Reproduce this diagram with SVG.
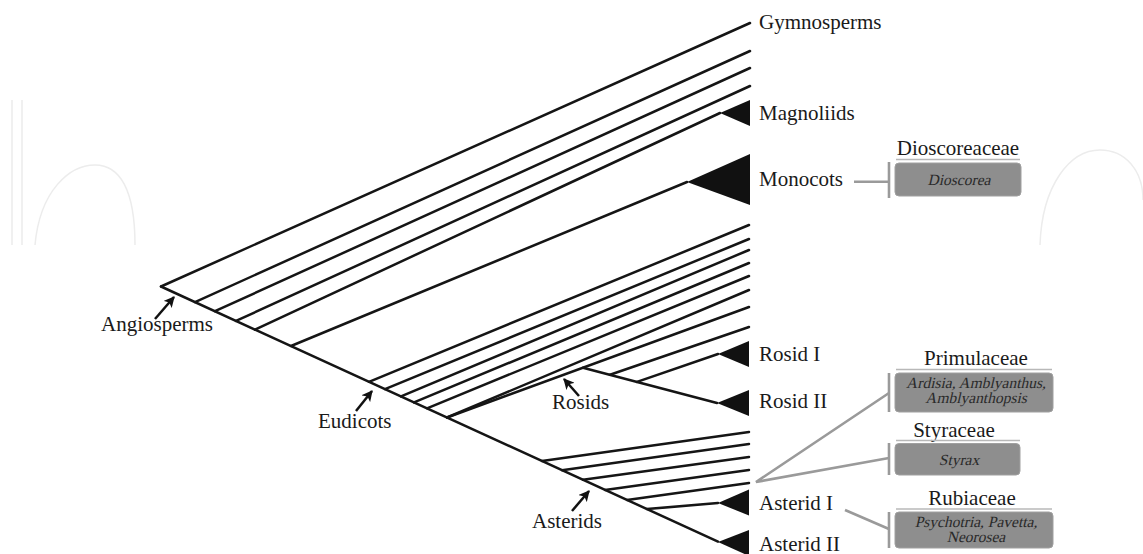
<svg xmlns="http://www.w3.org/2000/svg" width="1143" height="554" viewBox="0 0 1143 554">
<defs>
<marker id="ah" viewBox="0 0 10 10" refX="9" refY="5" markerWidth="11" markerHeight="11" markerUnits="userSpaceOnUse" orient="auto">
<path d="M0,0 L10,5 L0,10 L2.5,5 Z" fill="#111"/>
</marker>
<style>
.br{stroke:#151515;stroke-width:2.5;fill:none;stroke-linecap:round}
.tri{fill:#111}
.lbl{font-family:"Liberation Serif","Times New Roman",serif;font-size:21px;fill:#1a1a1a}
.hdr{font-family:"Liberation Serif","Times New Roman",serif;font-size:21px;fill:#1a1a1a;text-anchor:middle}
.it{font-family:"Liberation Serif","Times New Roman",serif;font-size:15.5px;fill:#2a2a2a;text-anchor:middle}
.box{fill:#8e8e8e;stroke:#a0a0a0;stroke-width:1}
.ul{stroke:#b8b8b8;stroke-width:1.5}
.gl{stroke:#9a9a9a;stroke-width:2.6;fill:none}
.arr{stroke:#111;stroke-width:2.5;marker-end:url(#ah)}
.wm{stroke:#ececec;stroke-width:1.5;fill:none}
</style>
</defs>
<rect width="1143" height="554" fill="#fff"/>

<g id="watermark">
<path class="wm" d="M12,100 L12,245 M22,100 L22,245"/>
<path class="wm" d="M35,245 C40,190 70,165 95,165 C120,165 135,190 135,245"/>
<path class="wm" d="M1040,245 C1042,185 1070,150 1100,150 C1125,150 1143,170 1143,200"/>
</g>

<g id="connectors">
<path class="br" d="M161,286.5 L718,541.6"/>
<path class="br" d="M161,286.5 L750,23"/>
<path class="br" d="M195,302.1 L750,51"/>
<path class="br" d="M215,311.2 L750,68"/>
<path class="br" d="M236,320.9 L750,86"/>
<path class="br" d="M255,329.6 L720,113"/>
<path class="br" d="M291,346 L687,182"/>
<path class="br" d="M369,381.8 L749,225"/>
<path class="br" d="M385,389.1 L749,239"/>
<path class="br" d="M401,396.4 L749,250"/>
<path class="br" d="M414,402.4 L749,263"/>
<path class="br" d="M427,408.3 L749,276"/>
<path class="br" d="M447,417.5 L749,290"/>
<path class="br" d="M447,417.5 L749,307"/>
<path class="br" d="M583,367.7 L717,403"/>
<path class="br" d="M610,374.8 L749,327"/>
<path class="br" d="M637,381.9 L718,354"/>
<path class="br" d="M542,461 L749,432"/>
<path class="br" d="M562,470.2 L749,444"/>
<path class="br" d="M583,479.8 L749,457"/>
<path class="br" d="M605,489.9 L749,470"/>
<path class="br" d="M627,499.9 L749,483"/>
<path class="br" d="M647,509.1 L718,503"/>
<line class="arr" x1="155" y1="319" x2="174" y2="297"/>
<line class="arr" x1="356" y1="411" x2="372" y2="391"/>
<line class="arr" x1="579" y1="396" x2="564" y2="379"/>
<line class="arr" x1="572" y1="511" x2="589" y2="491"/>
<path class="gl" d="M854,181.7 L889,181.7"/>
<path class="gl" d="M889,393 L756,482 L889,458"/>
<path class="gl" d="M845,510 L889,529"/>
</g>

<g id="angiosperms"><text class="lbl" x="101" y="331">Angiosperms</text></g>
<g id="eudicots"><text class="lbl" x="318" y="428">Eudicots</text></g>
<g id="rosids"><text class="lbl" x="552" y="409">Rosids</text></g>
<g id="asterids"><text class="lbl" x="532" y="528">Asterids</text></g>

<g id="gymnosperms"><text class="lbl" x="759" y="29">Gymnosperms</text></g>
<g id="magnoliids"><path class="tri" d="M720,113 L750,100 L750,126 Z"/><text class="lbl" x="759" y="120">Magnoliids</text></g>
<g id="monocots"><path class="tri" d="M687,182 L750,154 L750,205 Z"/><text class="lbl" x="759" y="186">Monocots</text></g>
<g id="rosid1"><path class="tri" d="M718,354 L749,341 L749,367 Z"/><text class="lbl" x="759" y="361">Rosid I</text></g>
<g id="rosid2"><path class="tri" d="M717,403 L749,390 L749,416 Z"/><text class="lbl" x="759" y="408">Rosid II</text></g>
<g id="asterid1"><path class="tri" d="M718,503 L749,489.5 L749,515.5 Z"/><text class="lbl" x="759" y="510">Asterid I</text></g>
<g id="asterid2"><path class="tri" d="M718,542 L749,530 L749,556 Z"/><text class="lbl" x="759" y="551">Asterid II</text></g>

<g id="dioscoreaceae">
<line class="gl" x1="889" y1="162" x2="889" y2="198"/>
<text class="hdr" x="958" y="155">Dioscoreaceae</text>
<line class="ul" x1="896" y1="159.5" x2="1020" y2="159.5"/>
<rect class="box" x="895" y="163" width="126" height="33" rx="4"/>
<text class="it" transform="translate(959,185) skewX(-13)">Dioscorea</text>
</g>

<g id="primulaceae">
<line class="gl" x1="889" y1="373" x2="889" y2="412"/>
<text class="hdr" x="976" y="365">Primulaceae</text>
<line class="ul" x1="896" y1="369.5" x2="1052" y2="369.5"/>
<rect class="box" x="895" y="373" width="158" height="39" rx="4"/>
<text class="it" transform="translate(976,388) skewX(-13)">Ardisia, Amblyanthus,</text>
<text class="it" transform="translate(976,403) skewX(-13)">Amblyanthopsis</text>
</g>

<g id="styraceae">
<line class="gl" x1="889" y1="443" x2="889" y2="475"/>
<text class="hdr" x="954" y="437">Styraceae</text>
<line class="ul" x1="896" y1="440.5" x2="1020" y2="440.5"/>
<rect class="box" x="895" y="443.5" width="125" height="31.5" rx="4"/>
<text class="it" transform="translate(959,465) skewX(-13)">Styrax</text>
</g>

<g id="rubiaceae">
<line class="gl" x1="889" y1="512" x2="889" y2="548"/>
<text class="hdr" x="972" y="505">Rubiaceae</text>
<line class="ul" x1="896" y1="509" x2="1052" y2="509"/>
<rect class="box" x="895" y="512" width="158" height="36" rx="4"/>
<text class="it" transform="translate(976,527) skewX(-13)">Psychotria, Pavetta,</text>
<text class="it" transform="translate(976,542) skewX(-13)">Neorosea</text>
</g>
</svg>
